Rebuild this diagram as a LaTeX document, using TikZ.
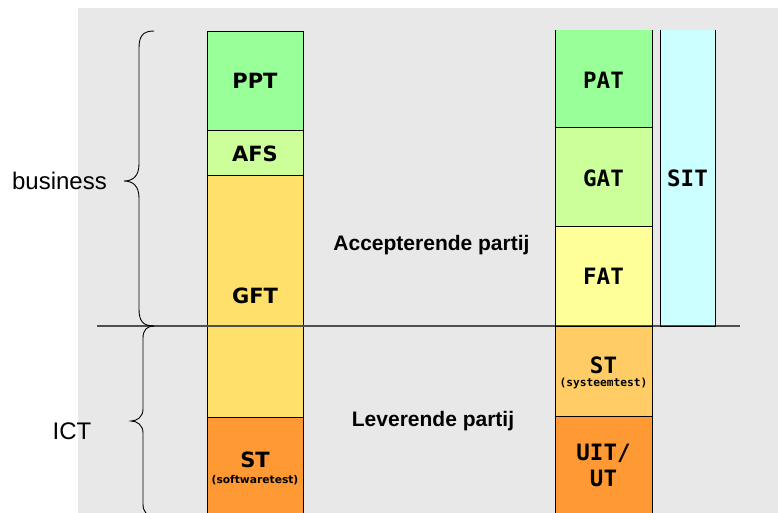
\documentclass[tikz,border=0pt]{standalone}
\usepackage{fontspec}
\setmainfont{Liberation Sans}
\newfontfamily\lblfont{DejaVu Sans}
\newfontfamily\monofnt{DejaVu Sans Mono}
\definecolor{bggray}{HTML}{E8E8E8}
\definecolor{cgreen}{HTML}{99FF99}
\definecolor{clime}{HTML}{CCFF99}
\definecolor{cgold}{HTML}{FFE06B}
\definecolor{corange}{HTML}{FF9933}
\definecolor{cpale}{HTML}{FFFF99}
\definecolor{capricot}{HTML}{FFCC66}
\definecolor{ccyan}{HTML}{CCFFFF}
\definecolor{linegray}{HTML}{505050}
\tikzset{
  cell/.style={rectangle, draw=black, line width=0.9pt, inner sep=0pt, outer sep=0pt, minimum width=96pt},
  rcell/.style={rectangle, inner sep=0pt, outer sep=0pt, minimum width=97pt},
  edge/.style={draw=black, line width=0.9pt},
  lbl/.style={font=\lblfont\bfseries\fontsize{21}{23}\selectfont, inner sep=0pt, anchor=center},
  sublbl/.style={font=\lblfont\bfseries\fontsize{10.7}{12}\selectfont, inner sep=0pt},
  rlbl/.style={font=\monofnt\bfseries\fontsize{22.5}{24}\selectfont, inner sep=0pt},
  rsub/.style={font=\monofnt\bfseries\fontsize{11.2}{12}\selectfont, inner sep=0pt},
  sidelbl/.style={font=\fontsize{24}{26}\selectfont, inner sep=0pt},
  midlbl/.style={font=\bfseries\fontsize{21}{24}\selectfont, inner sep=0pt},
  bracepath/.style={draw=black, line width=0.9pt},
  divider/.style={draw=linegray, line width=1.4pt}
}
\begin{document}
\begin{tikzpicture}[x=1pt, y=-1pt]
\useasboundingbox (0,0) rectangle (778,513);
\begin{scope}
\clip (0,0) rectangle (778,513);
\fill[bggray] (78,8) rectangle (778,520);

% left column
\node[cell, fill=cgreen, minimum height=99pt] (ppt) at (255,80.5) {};
\node[cell, fill=clime, minimum height=45pt] (afs) at (255,152.5) {};
\node[cell, fill=cgold, minimum height=242pt] (gft) at (255,296) {};
\node[cell, fill=corange, minimum height=113pt] (stl) at (255,473.5) {};

% right column
\node[rcell, fill=cgreen, minimum height=97pt] (pat) at (603.5,78.5) {};
\node[rcell, fill=clime, minimum height=99pt] (gat) at (603.5,176.5) {};
\node[rcell, fill=cpale, minimum height=100pt] (fat) at (603.5,276) {};
\node[rcell, fill=capricot, minimum height=90pt] (str) at (603.5,371) {};
\node[rcell, fill=corange, minimum height=114pt] (uit) at (603.5,473) {};
\node[rectangle, inner sep=0pt, outer sep=0pt, fill=ccyan, minimum width=55pt, minimum height=296pt] (sit) at (687.5,178) {};

% divider line
\coordinate (divL) at (97,326);
\coordinate (divR) at (740,326);
\draw[divider] (divL) -- (divR);

% right column borders
\draw[edge] (pat.north west) -- (uit.south west);
\draw[edge] (pat.north east) -- (uit.south east);
\draw[edge] (pat.south west) -- (pat.south east);
\draw[edge] (gat.south west) -- (gat.south east);
\draw[edge] (fat.south west) -- (fat.south east);
\draw[edge] (str.south west) -- (str.south east);
\draw[edge] (sit.north west) -- (sit.south west) -- (sit.south east) -- (sit.north east);

% labels left
\node[lbl] (lppt) at (255,81) {PPT};
\node[lbl] (lafs) at (255,154) {AFS};
\node[lbl] (lgft) at (255,296) {GFT};
\node[lbl] (lstl) at (255,459.5) {ST};
\node[sublbl] (lsw) at (255,480) {(softwaretest)};

% labels right
\node[rlbl] (lpat) at (603.5,80) {PAT};
\node[rlbl] (lgat) at (603.5,178) {GAT};
\node[rlbl] (lfat) at (603.5,276.5) {FAT};
\node[rlbl] (lstr) at (603.5,365) {ST};
\node[rsub] (lsys) at (603.5,383) {(systeemtest)};
\node[rlbl] (luit) at (603.5,453.5) {UIT/};
\node[rlbl] (lut) at (603.5,478) {UT};
\node[rlbl] (lsit) at (687.5,178) {SIT};

% middle labels
\node[midlbl] (acc) at (431.5,245.5) {Accepterende partij};
\node[midlbl] (lev) at (433,421.5) {Leverende partij};

% side labels
\node[sidelbl] (bus) at (59.5,181) {business};
\node[sidelbl] (ict) at (72,431) {ICT};

% braces
\draw[bracepath] (154,31) .. controls (143,31) and (139,36) .. (139,48) -- (139,164)
  .. controls (139,176) and (133,181) .. (124,181)
  .. controls (133,181) and (139,186) .. (139,198) -- (139,309)
  .. controls (139,321) and (143,326) .. (154,326);
\draw[bracepath] (154,326) .. controls (147,326) and (143,330) .. (143,338) -- (143,409)
  .. controls (143,417) and (137,421) .. (131,421)
  .. controls (137,421) and (143,425) .. (143,433) -- (143,504)
  .. controls (143,512) and (147,516) .. (154,516);
\end{scope}
\end{tikzpicture}
\end{document}
